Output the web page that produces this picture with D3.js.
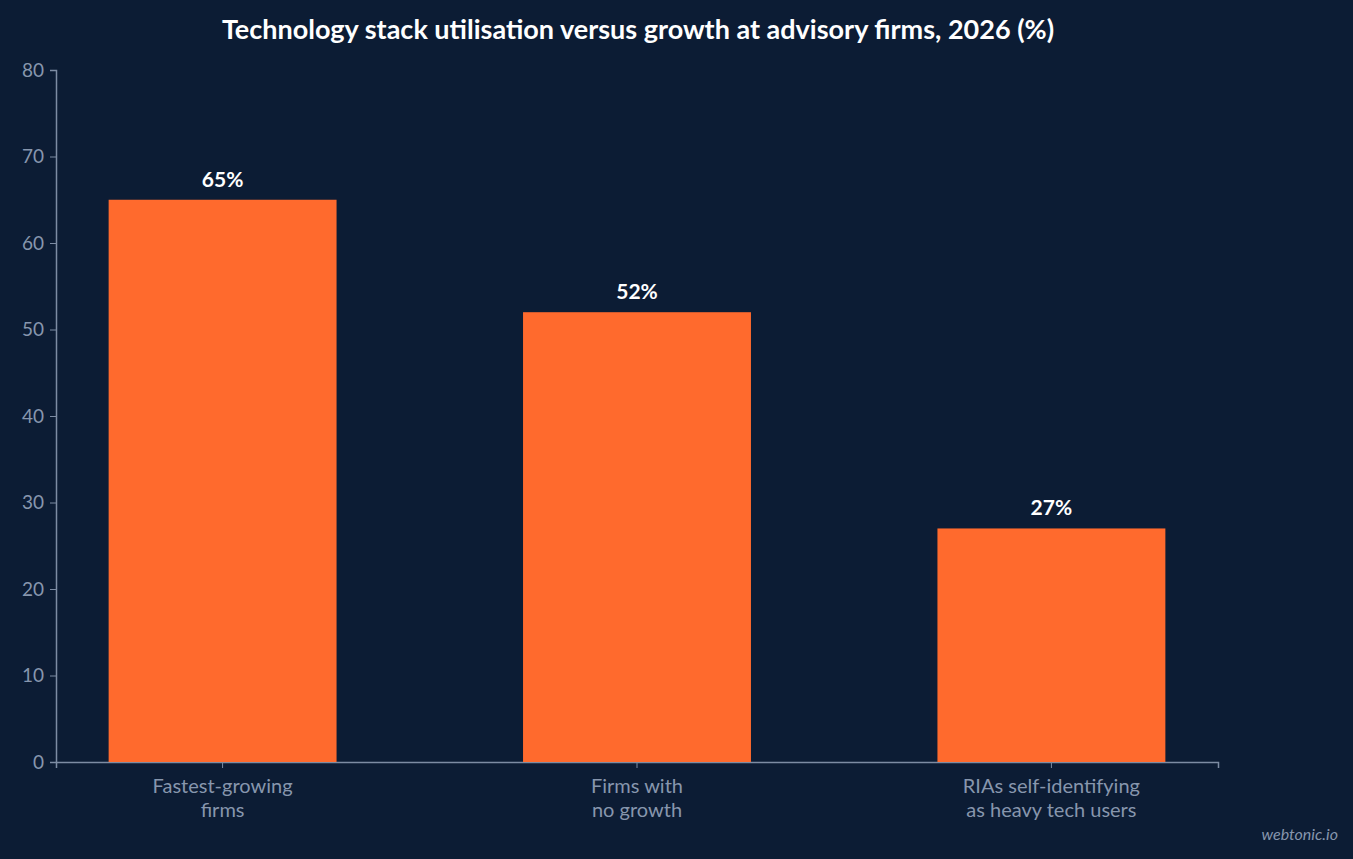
<!DOCTYPE html>
<html lang="en">
<head>
<meta charset="UTF-8">
<title>Technology stack utilisation</title>
<style>
  body { margin: 0; background: #0c1c34; }
  svg { display: block; font-family: Lato, "Noto Sans", sans-serif; }
</style>
</head>
<body>
<svg id="svg" width="1353" height="859"></svg>
<script src="https://d3js.org/d3.v7.min.js"></script>
<script>
  // data
  const categories = [['Fastest-growing', 'firms'], ['Firms with', 'no growth'], ['RIAs self-identifying', 'as heavy tech users']]
  const values = [65, 52, 27]
  const yTicks = [0, 10, 20, 30, 40, 50, 60, 70, 80]

  const svg = d3.select('#svg')
  svg.append('rect').attr('width', 1353).attr('height', 859).attr('fill', '#0c1c34')

  const margin = { top: 70, right: 135, bottom: 97, left: 56 }
  const width = 1353 - margin.left - margin.right
  const height = 859 - margin.top - margin.bottom

  const x = d3.scaleBand()
    .domain(d3.range(categories.length))
    .range([0, width])
    .paddingInner(0.45)
    .paddingOuter(0.127)

  const y = d3.scaleLinear().domain([0, 80]).range([height, 0])

  const g = svg.append('g').attr('transform', `translate(${margin.left},${margin.top})`)

  // axes
  const yAxis = g.append('g').call(d3.axisLeft(y).tickValues(yTicks).tickSize(6).tickPadding(6))
  const xAxis = g.append('g').attr('transform', `translate(0,${height})`)
    .call(d3.axisBottom(x).tickSize(6).tickFormat(''))

  for (const ax of [yAxis, xAxis]) {
    ax.selectAll('path, line').attr('stroke', '#7d8ca3')
    ax.select('.domain').attr('stroke-width', 1.5)
  }
  yAxis.selectAll('text').attr('fill', '#8796ad').style('font-size', '19px').style('font-family', 'Lato')

  // category labels, two lines each
  categories.forEach((lines, i) => {
    const t = g.append('text')
      .attr('x', x(i) + x.bandwidth() / 2)
      .attr('y', height + 31)
      .attr('text-anchor', 'middle')
      .attr('fill', '#8796ad')
      .style('font-size', '20px')
    lines.forEach((l, j) => {
      t.append('tspan').attr('x', x(i) + x.bandwidth() / 2).attr('dy', j ? 24 : 0).text(l)
    })
  })

  // bars
  g.selectAll('rect.bar')
    .data(values)
    .join('rect')
    .attr('class', 'bar')
    .attr('x', (d, i) => x(i))
    .attr('y', d => y(d))
    .attr('width', x.bandwidth())
    .attr('height', d => height - y(d))
    .attr('fill', '#ff6a2d')

  g.selectAll('text.val')
    .data(values)
    .join('text')
    .attr('class', 'val')
    .attr('x', (d, i) => x(i) + x.bandwidth() / 2)
    .attr('y', d => y(d) - 13)
    .attr('text-anchor', 'middle')
    .attr('fill', '#ffffff')
    .style('font-size', '21px')
    .style('font-weight', 'bold')
    .text(d => d + '%')

  // title
  svg.append('text')
    .attr('x', 638).attr('y', 39)
    .attr('text-anchor', 'middle')
    .attr('fill', '#ffffff')
    .style('font-size', '27px')
    .style('font-weight', 'bold')
    .text('Technology stack utilisation versus growth at advisory firms, 2026 (%)')

  svg.append('text')
    .attr('x', 1338).attr('y', 840)
    .attr('text-anchor', 'end')
    .attr('fill', '#8796ad')
    .style('font-size', '16px')
    .style('font-style', 'italic')
    .text('webtonic.io')
</script>
</body>
</html>
